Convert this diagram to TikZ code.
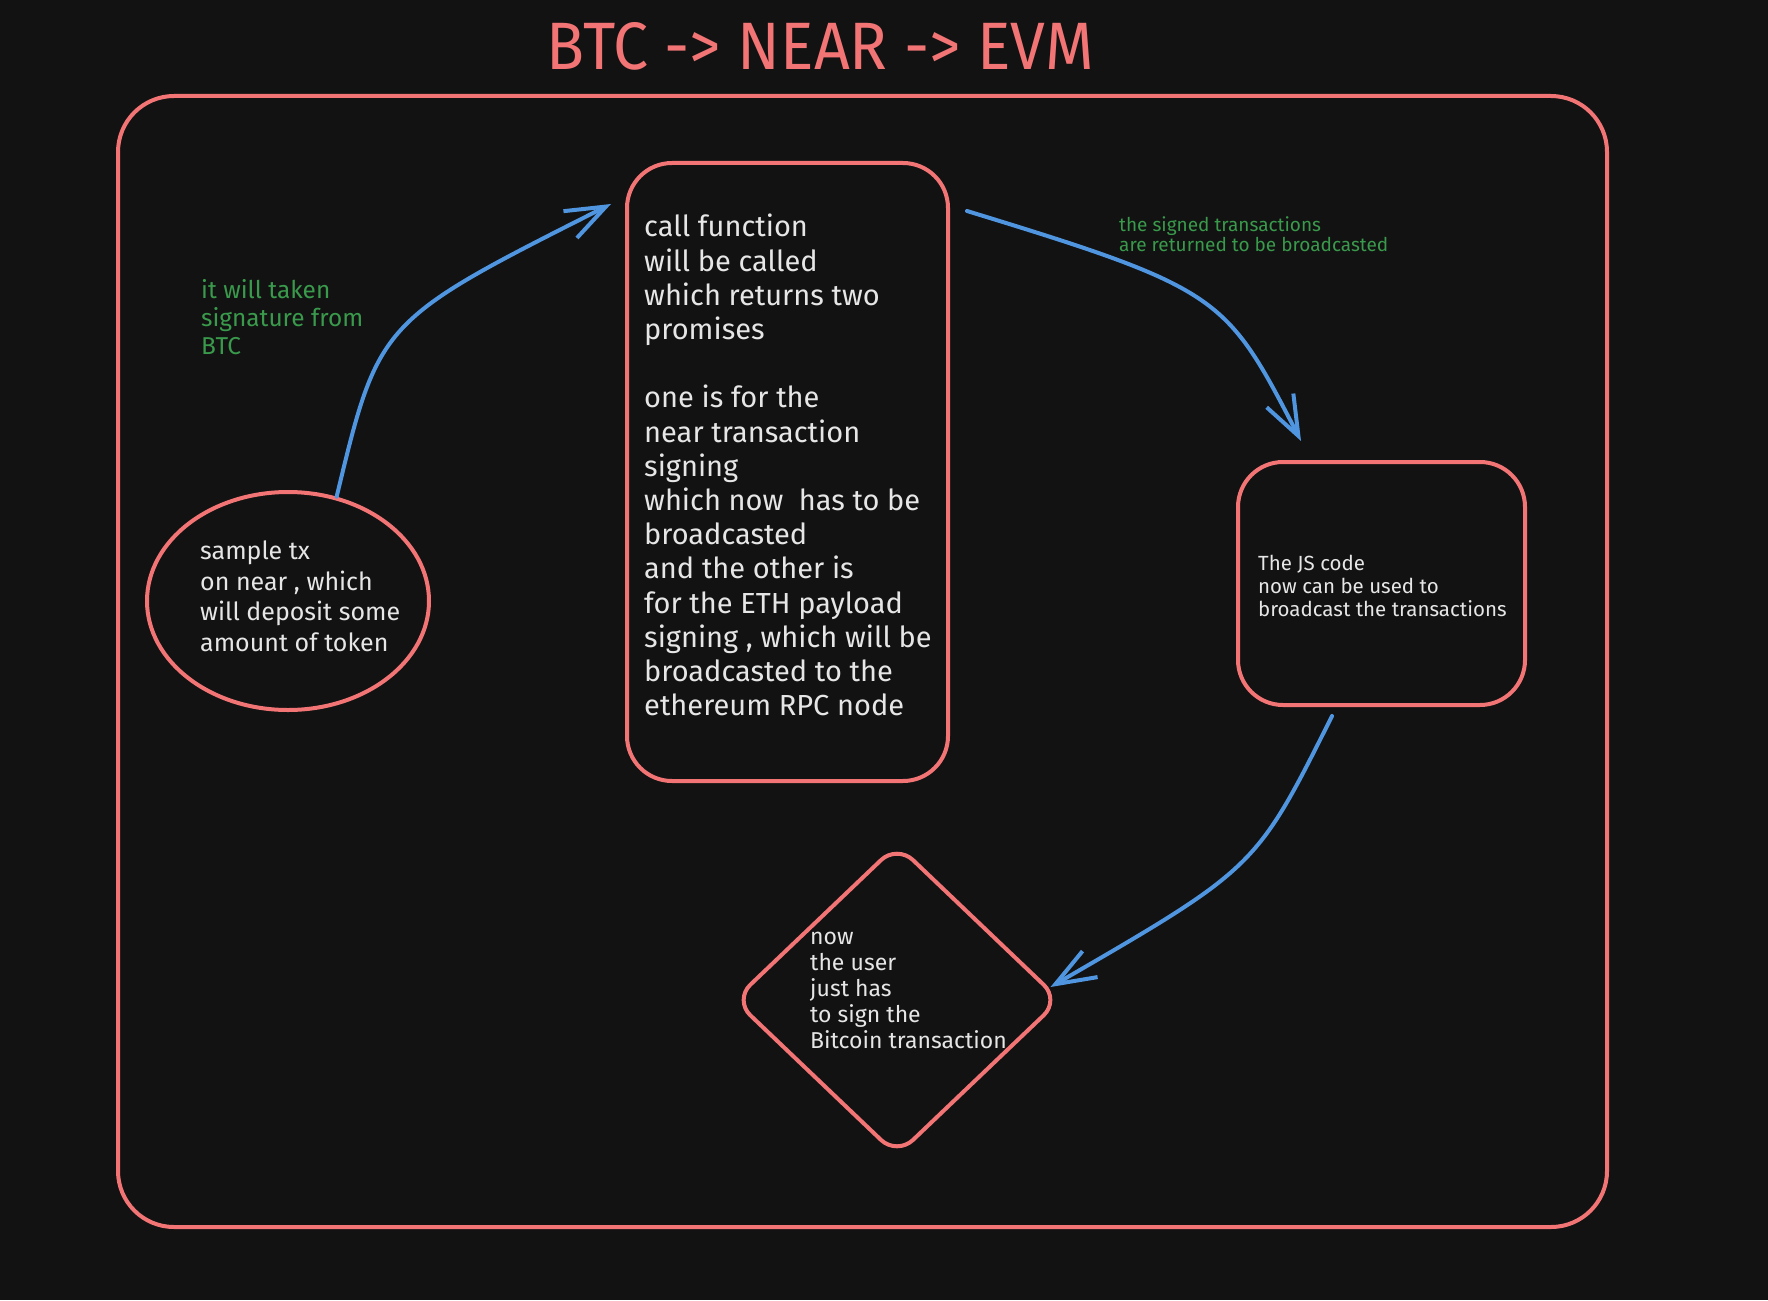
\documentclass[tikz,border=0pt]{standalone}
\usepackage{fontspec}
\setmainfont{Fira Sans}
\usetikzlibrary{arrows.meta,shapes.geometric}
\definecolor{bg}{HTML}{121212}
\definecolor{salmon}{HTML}{F27474}
\definecolor{arrowblue}{HTML}{4F95E0}
\definecolor{notegreen}{HTML}{3A9A4C}
\definecolor{txt}{HTML}{E6E6E6}
\tikzset{
  frame/.style={draw=salmon, line width=4pt, inner sep=0pt},
  arr/.style={draw=arrowblue, line width=4pt, line cap=round, line join=round,
    -{Straight Barb[length=40pt,width=30pt]}},
  bodytext/.style={text=txt, anchor=north west, inner sep=0pt, align=left},
  note/.style={text=notegreen, anchor=north west, inner sep=0pt, align=left},
}
\begin{document}
\begin{tikzpicture}[x=1pt,y=-1pt]
\fill[bg] (0,0) rectangle (1768,1300);
\useasboundingbox (0,0) rectangle (1768,1300);

% title
\node[text=salmon, inner sep=0pt] (title) at (820,46.5)
  {\resizebox{547pt}{47pt}{BTC -> NEAR -> EVM}};

% outer frame
\node[frame, rounded corners=56pt, minimum width=1489pt, minimum height=1131pt]
  (outer) at (862.5,661.5) {};

% shapes
\node[frame, ellipse, minimum width=282pt, minimum height=218pt] (ell) at (288,601) {};
\node[frame, rounded corners=45pt, minimum width=321pt, minimum height=618pt] (mid) at (787.5,472) {};
\node[frame, rounded corners=45pt, minimum width=287pt, minimum height=243pt] (rbox) at (1381.5,583.5) {};
\node[frame, diamond, rounded corners=22pt, minimum width=327pt, minimum height=312pt] (dia) at (897,1000) {};

% texts
\node[bodytext, font=\fontsize{25}{30.5}\selectfont] (elltext) at (200,541)
  {sample tx\\on near , which\\will deposit some\\amount of token};
\node[bodytext, font=\fontsize{29}{34.2}\selectfont] (midtext) at (644,214)
  {call function\\will be called\\which returns two\\promises\\[34.2pt]one is for the\\near transaction\\signing\\which now\ \ has to be\\broadcasted\\and the other is\\for the ETH payload\\signing , which will be\\broadcasted to the\\ethereum RPC node};
\node[bodytext, font=\fontsize{20.5}{23}\selectfont] (rtext) at (1258,555)
  {The JS code\\now can be used to\\broadcast the transactions};
\node[bodytext, font=\fontsize{23}{26}\selectfont] (diatext) at (810,932)
  {now\\the user\\just has\\to sign the\\Bitcoin transaction};
\node[note, font=\fontsize{24.4}{28}\selectfont] (note1) at (201,279)
  {it will taken\\signature from\\BTC};
\node[note, font=\fontsize{19}{20.5}\selectfont] (note2) at (1119,216)
  {the signed transactions\\are returned to be broadcasted};

% connectors
\draw[arr] (ell.65) .. controls (379,321) .. ([xshift=-14pt,yshift=-43pt]mid.north west);
\draw[arr] ([xshift=17pt,yshift=-50pt]mid.north east) .. controls (1222,289) and (1226,296) .. ([xshift=65pt,yshift=19pt]rbox.north west);
\draw[arr] ([xshift=96pt,yshift=-9pt]rbox.south west) .. controls (1256,868) .. ([xshift=-12pt,yshift=13pt]dia.east);
\end{tikzpicture}
\end{document}
